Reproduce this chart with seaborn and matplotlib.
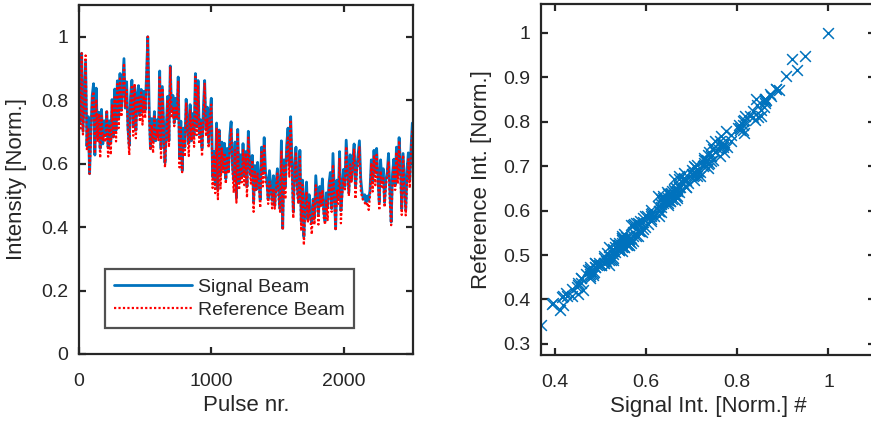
import numpy as np
import pandas as pd
import matplotlib
matplotlib.use("Agg")
import matplotlib.pyplot as plt
import seaborn as sns

# ---------------- data ----------------
pulse_step = 10
signal_beam = [
    0.862, 0.735, 0.948, 0.702, 0.812, 0.921, 0.655, 0.748, 0.568, 0.703,
    0.815, 0.852, 0.627, 0.838, 0.683, 0.762, 0.648, 0.771, 0.662, 0.735,
    0.688, 0.764, 0.652, 0.735, 0.668, 0.802, 0.684, 0.835, 0.705, 0.861,
    0.742, 0.884, 0.768, 0.852, 0.931, 0.775, 0.858, 0.712, 0.657, 0.812,
    0.863, 0.718, 0.842, 0.705, 0.818, 0.846, 0.752, 0.834, 0.763, 0.828,
    0.768, 0.872, 1.000, 0.786, 0.647, 0.742, 0.668, 0.764, 0.672, 0.738,
    0.684, 0.892, 0.648, 0.843, 0.726, 0.603, 0.718, 0.812, 0.672, 0.908,
    0.764, 0.815, 0.728, 0.806, 0.742, 0.873, 0.618, 0.734, 0.578, 0.712,
    0.652, 0.803, 0.728, 0.664, 0.786, 0.672, 0.758, 0.688, 0.884, 0.715,
    0.862, 0.692, 0.738, 0.648, 0.772, 0.862, 0.706, 0.778, 0.665, 0.752,
    0.806, 0.558, 0.638, 0.532, 0.728, 0.518, 0.706, 0.562, 0.668, 0.583,
    0.664, 0.552, 0.648, 0.574, 0.688, 0.732, 0.594, 0.548, 0.668, 0.492,
    0.708, 0.542, 0.628, 0.556, 0.663, 0.562, 0.638, 0.528, 0.702, 0.598,
    0.562, 0.626, 0.478, 0.594, 0.518, 0.604, 0.548, 0.486, 0.652, 0.568,
    0.682, 0.572, 0.548, 0.488, 0.578, 0.532, 0.484, 0.562, 0.468, 0.542,
    0.584, 0.508, 0.458, 0.672, 0.396, 0.612, 0.528, 0.658, 0.712, 0.594,
    0.748, 0.612, 0.448, 0.588, 0.652, 0.528, 0.478, 0.642, 0.418, 0.548,
    0.370, 0.478, 0.542, 0.424, 0.502, 0.438, 0.412, 0.488, 0.428, 0.562,
    0.498, 0.438, 0.528, 0.472, 0.552, 0.452, 0.418, 0.508, 0.462, 0.538,
    0.572, 0.458, 0.632, 0.512, 0.394, 0.548, 0.488, 0.638, 0.452, 0.514,
    0.582, 0.528, 0.674, 0.592, 0.508, 0.628, 0.548, 0.612, 0.662, 0.524,
    0.586, 0.628, 0.672, 0.552, 0.508, 0.488, 0.502, 0.478, 0.498, 0.484,
    0.518, 0.612, 0.542, 0.642, 0.572, 0.648, 0.552, 0.478, 0.612, 0.542,
    0.584, 0.478, 0.548, 0.572, 0.632, 0.518, 0.416, 0.568, 0.614, 0.532,
    0.652, 0.562, 0.682, 0.598, 0.458, 0.632, 0.542, 0.452, 0.582, 0.634,
    0.548, 0.648, 0.728,
]
reference_beam = [
    0.842, 0.705, 0.948, 0.692, 0.782, 0.941, 0.640, 0.713, 0.568, 0.678,
    0.805, 0.827, 0.632, 0.803, 0.668, 0.757, 0.618, 0.751, 0.672, 0.695,
    0.668, 0.769, 0.622, 0.725, 0.628, 0.787, 0.684, 0.810, 0.670, 0.851,
    0.712, 0.874, 0.748, 0.812, 0.916, 0.780, 0.833, 0.702, 0.627, 0.792,
    0.848, 0.688, 0.852, 0.680, 0.813, 0.811, 0.732, 0.824, 0.723, 0.813,
    0.743, 0.862, 1.000, 0.756, 0.642, 0.722, 0.633, 0.749, 0.677, 0.708,
    0.674, 0.872, 0.613, 0.838, 0.701, 0.588, 0.678, 0.802, 0.652, 0.903,
    0.744, 0.775, 0.718, 0.781, 0.747, 0.858, 0.588, 0.714, 0.573, 0.677,
    0.622, 0.793, 0.703, 0.624, 0.771, 0.672, 0.738, 0.653, 0.874, 0.690,
    0.847, 0.662, 0.733, 0.623, 0.732, 0.852, 0.686, 0.743, 0.650, 0.757,
    0.786, 0.523, 0.628, 0.507, 0.713, 0.488, 0.701, 0.522, 0.648, 0.573,
    0.634, 0.537, 0.623, 0.569, 0.653, 0.712, 0.584, 0.508, 0.643, 0.477,
    0.698, 0.517, 0.588, 0.541, 0.643, 0.532, 0.633, 0.493, 0.682, 0.588,
    0.537, 0.611, 0.448, 0.574, 0.518, 0.569, 0.538, 0.461, 0.637, 0.528,
    0.662, 0.542, 0.538, 0.473, 0.543, 0.527, 0.459, 0.522, 0.458, 0.522,
    0.569, 0.483, 0.448, 0.642, 0.391, 0.592, 0.488, 0.643, 0.687, 0.559,
    0.738, 0.582, 0.428, 0.553, 0.637, 0.503, 0.473, 0.622, 0.388, 0.533,
    0.343, 0.458, 0.512, 0.414, 0.477, 0.423, 0.377, 0.483, 0.408, 0.532,
    0.483, 0.408, 0.508, 0.467, 0.517, 0.432, 0.408, 0.483, 0.422, 0.523,
    0.552, 0.448, 0.597, 0.487, 0.389, 0.518, 0.473, 0.618, 0.412, 0.504,
    0.557, 0.513, 0.654, 0.552, 0.498, 0.598, 0.543, 0.587, 0.647, 0.489,
    0.576, 0.598, 0.652, 0.517, 0.493, 0.483, 0.477, 0.468, 0.478, 0.454,
    0.498, 0.602, 0.512, 0.627, 0.532, 0.628, 0.547, 0.453, 0.577, 0.527,
    0.554, 0.463, 0.528, 0.567, 0.607, 0.478, 0.406, 0.538, 0.594, 0.517,
    0.637, 0.537, 0.672, 0.563, 0.438, 0.627, 0.512, 0.437, 0.542, 0.614,
    0.523, 0.638, 0.708,
]
pulse_nr = [i * pulse_step for i in range(len(signal_beam))]

left_yticks = [0, 0.2, 0.4, 0.6, 0.8, 1]
left_xticks = [0, 1000, 2000]
right_xticks = [0.4, 0.6, 0.8, 1]
right_yticks = [0.3, 0.4, 0.5, 0.6, 0.7, 0.8, 0.9, 1]

df = pd.DataFrame({"pulse": pulse_nr, "signal": signal_beam, "reference": reference_beam})

# ---------------- style ----------------
sns.set_style("white")
plt.rcParams["font.family"] = ["Liberation Sans", "DejaVu Sans"]
TXT = "#262626"
BLUE = "#0072BD"

fig = plt.figure(figsize=(8.71, 4.26), dpi=100)
ax1 = fig.add_axes([79 / 871, 72 / 426, (413 - 79) / 871, (354 - 5) / 426])
ax2 = fig.add_axes([541 / 871, 71 / 426, (875 - 541) / 871, (355 - 4) / 426])

sns.lineplot(data=df, x="pulse", y="signal", ax=ax1, color=BLUE, lw=2.0,
             label="Signal Beam", estimator=None, sort=False)
sns.lineplot(data=df, x="pulse", y="reference", ax=ax1, color="red", lw=1.6,
             linestyle=(0, (1, 1)), label="Reference Beam", estimator=None, sort=False)

sns.scatterplot(data=df, x="signal", y="reference", ax=ax2, marker="x",
                color=BLUE, s=60, linewidth=1.1, legend=False)

ax1.set_xlim(0, 2525)
ax1.set_ylim(0, 1.1)
ax1.set_xticks(left_xticks)
ax1.set_xticklabels([str(t) for t in left_xticks])
ax1.set_yticks(left_yticks)
ax1.set_yticklabels(["0", "0.2", "0.4", "0.6", "0.8", "1"])
ax1.set_xlabel("Pulse nr.", fontsize=16, color=TXT)
ax1.set_ylabel("Intensity [Norm.]", fontsize=16, color=TXT)

ax2.set_xlim(0.37, 1.102)
ax2.set_ylim(0.275, 1.065)
ax2.set_xticks(right_xticks)
ax2.set_xticklabels(["0.4", "0.6", "0.8", "1"])
ax2.set_yticks(right_yticks)
ax2.set_yticklabels(["0.3", "0.4", "0.5", "0.6", "0.7", "0.8", "0.9", "1"])
ax2.set_xlabel("Signal Int. [Norm.] #", fontsize=16, color=TXT)
ax2.set_ylabel("Reference Int. [Norm.]", fontsize=16, color=TXT)

for ax in (ax1, ax2):
    for sp in ax.spines.values():
        sp.set_visible(True)
        sp.set_color(TXT)
        sp.set_linewidth(1.6)
    ax.tick_params(direction="in", length=5, width=1.6, colors=TXT,
                   labelsize=14, top=True, right=True, bottom=True, left=True,
                   labelcolor=TXT)
    ax.tick_params(axis="x", pad=13.5)
    ax.tick_params(axis="y", pad=7.5)

leg = ax1.legend(loc="lower left", bbox_to_anchor=(0.078, 0.0745), fontsize=14,
                 frameon=True, fancybox=False, handlelength=4.0, borderpad=0.45,
                 labelspacing=0.3, handletextpad=0.35, borderaxespad=0)
leg.get_frame().set_edgecolor(TXT)
leg.get_frame().set_linewidth(1.6)
for t in leg.get_texts():
    t.set_color(TXT)

ax1.yaxis.set_label_coords(-0.156, 0.5)
ax2.yaxis.set_label_coords(-0.147, 0.5)

fig.savefig("out.png", dpi=100)
